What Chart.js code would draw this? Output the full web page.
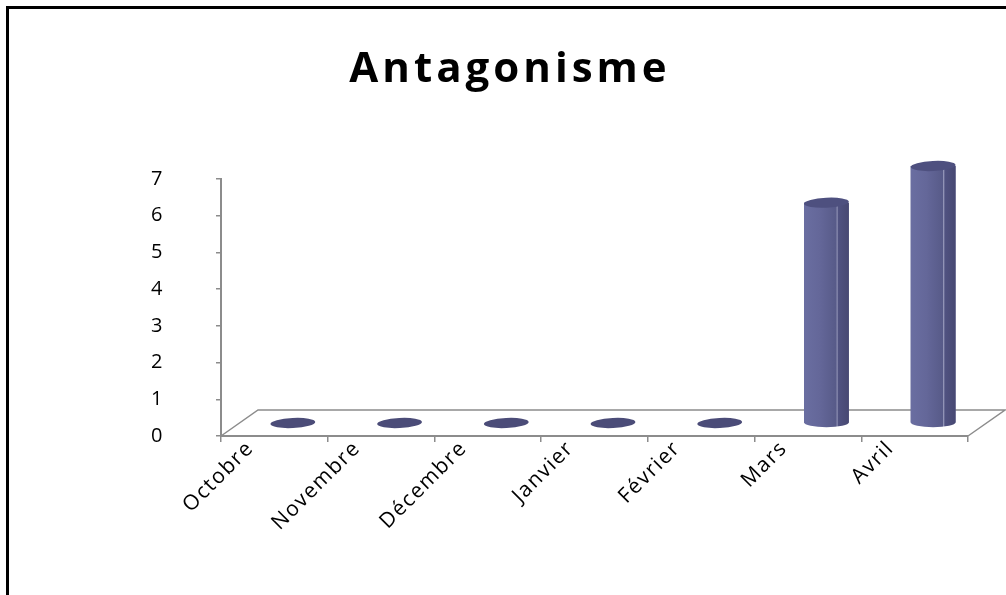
<!DOCTYPE html>
<html lang="fr">
<head>
<meta charset="utf-8">
<title>Antagonisme</title>
<script src="https://cdn.jsdelivr.net/npm/chart.js@4/dist/chart.umd.min.js"></script>
<style>
  html, body { margin: 0; padding: 0; background: #fff; }
  #wrap { position: relative; width: 1006px; height: 595px; overflow: hidden; }
  #cadre {
    position: absolute; left: 6px; top: 6px; width: 1100px; height: 700px;
    border-left: 3px solid #000; border-top: 3px solid #000;
  }
  canvas { position: absolute; left: 0; top: 0; }
</style>
</head>
<body>
<div id="wrap">
  <div id="cadre"></div>
  <canvas id="graphique" width="1006" height="595"></canvas>
</div>
<script>
const titre = "Antagonisme";
const mois = ["Octobre", "Novembre", "Décembre", "Janvier", "Février", "Mars", "Avril"];
const valeurs = [0, 0, 0, 0, 0, 6, 7];
const graduations = [0, 1, 2, 3, 4, 5, 6, 7];

// profondeur de la perspective (plancher 3D)
const PROF_X = 37;
const PROF_Y = 26;
const GRIS = "#8c8c8c";

// les libellés sont un peu espacés, comme le titre
const pluginEspacement = {
    id: "espacement",
    beforeUpdate(chart) { chart.ctx.letterSpacing = "1.5px"; },
    beforeDraw(chart) { chart.ctx.letterSpacing = "1.5px"; }
};

// titre dessiné à la main pour pouvoir espacer les lettres
const pluginTitre = {
    id: "titreEspace",
    afterDraw(chart) {
        const ctx = chart.ctx;
        ctx.save();
        ctx.font = "bold 42px 'Open Sans'";
        ctx.letterSpacing = "4px";
        ctx.fillStyle = "#000";
        ctx.textAlign = "center";
        ctx.textBaseline = "alphabetic";
        ctx.fillText(titre, 510, 82);
        ctx.restore();
    }
};

// plancher en perspective + colonnes cylindriques
const plugin3D = {
    id: "effet3D",
    beforeDatasetsDraw(chart) {
        const { ctx, chartArea: a } = chart;
        ctx.save();
        ctx.strokeStyle = GRIS;
        ctx.lineWidth = 1.5;
        ctx.beginPath();
        ctx.moveTo(a.left, a.bottom);
        ctx.lineTo(a.left + PROF_X, a.bottom - PROF_Y);
        ctx.lineTo(a.right + PROF_X, a.bottom - PROF_Y);
        ctx.lineTo(a.right, a.bottom);
        ctx.stroke();
        ctx.restore();
        // les barres sont placées au milieu de la profondeur
        ctx.save();
        ctx.translate(PROF_X / 2, -PROF_Y / 2);
    },
    afterDatasetsDraw(chart) {
        const ctx = chart.ctx;
        const meta = chart.getDatasetMeta(0);
        meta.data.forEach(barre => {
            const { x, y, base, width } = barre.getProps(["x", "y", "base", "width"], true);
            const g = x - width / 2, d = x + width / 2;
            const rx = width / 2, ry = 5;
            if (base - y < 1) {
                // valeur nulle : simple disque
                ctx.fillStyle = "#4b4c78";
                ctx.beginPath();
                ctx.ellipse(x, base, rx, ry, -0.05, 0, Math.PI * 2);
                ctx.fill();
                return;
            }
            const grad = ctx.createLinearGradient(g, 0, d, 0);
            grad.addColorStop(0, "#6a6ea1");
            grad.addColorStop(0.35, "#646799");
            grad.addColorStop(0.72, "#575a88");
            grad.addColorStop(0.735, "#a5a7c6");
            grad.addColorStop(0.76, "#505281");
            grad.addColorStop(1, "#474872");
            ctx.fillStyle = grad;
            ctx.beginPath();
            ctx.moveTo(g, y);
            ctx.lineTo(g, base);
            ctx.ellipse(x, base, rx, ry, 0, Math.PI, 0, true);
            ctx.lineTo(d, y);
            ctx.closePath();
            ctx.fill();
            // dessus
            ctx.fillStyle = "#4e507f";
            ctx.beginPath();
            ctx.ellipse(x, y, rx, ry, -0.05, 0, Math.PI * 2);
            ctx.fill();
        });
        ctx.restore();
    }
};

new Chart(document.getElementById("graphique"), {
    type: "bar",
    data: {
        labels: mois,
        datasets: [{
            label: titre,
            data: valeurs,
            backgroundColor: "#5f6292",
            borderWidth: 0,
            barPercentage: 0.42,
            categoryPercentage: 1
        }]
    },
    options: {
        responsive: false,
        animation: false,
        layout: { padding: { top: 179, right: 38, left: 0, bottom: 0 } },
        plugins: {
            legend: { display: false },
            title: { display: false },
            tooltip: { enabled: false }
        },
        scales: {
            x: {
                afterFit: s => { s.height = 159; },
                grid: { display: true, drawOnChartArea: false, offset: true, tickLength: 6, color: GRIS, lineWidth: 1.5 },
                border: { display: true, color: GRIS, width: 2 },
                ticks: {
                    color: "#000",
                    font: { family: "'Open Sans'", size: 21 },
                    minRotation: 45,
                    maxRotation: 45,
                    labelOffset: -24,
                    padding: -6
                }
            },
            y: {
                min: 0,
                max: 7,
                afterFit: s => { s.width = 221; },
                afterBuildTicks: s => { s.ticks = graduations.map(v => ({ value: v })); },
                grid: { display: true, drawOnChartArea: false, tickLength: 5, color: GRIS, lineWidth: 1.5 },
                border: { display: true, color: GRIS, width: 2 },
                ticks: {
                    color: "#000",
                    font: { family: "'Open Sans'", size: 20 },
                    padding: 52
                }
            }
        }
    },
    plugins: [pluginEspacement, plugin3D, pluginTitre]
});
</script>
</body>
</html>
